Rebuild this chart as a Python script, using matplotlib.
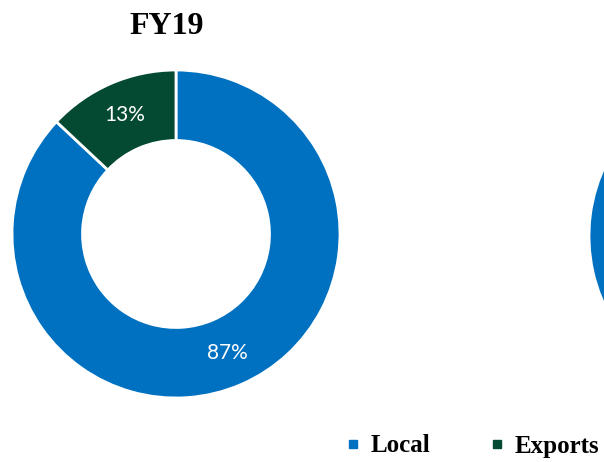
import matplotlib
matplotlib.use('Agg')
import matplotlib.pyplot as plt
from matplotlib.lines import Line2D

categories = ['Local', 'Exports']
fy19_share = [87, 13]
fy20_share = [88, 12]   # second chart, only its left edge shows in the crop
colors = ['#0070C0', '#044A32']

W, H = 604, 462
fig = plt.figure(figsize=(W / 100, H / 100), dpi=100)

def donut(cx, cy, r, values, labels=True):
    ax = fig.add_axes([(cx - r) / W, (H - cy - r) / H, 2 * r / W, 2 * r / H])
    wedges, *rest = ax.pie(values, colors=colors, startangle=90, counterclock=False,
                           radius=1, pctdistance=0.79,
                           autopct='%1.0f%%' if labels else None,
                           wedgeprops=dict(width=0.43, edgecolor='white', linewidth=2))
    if labels:
        for t in rest[1]:
            t.set_color('white')
            t.set_fontsize(15)
            t.set_family('Lato')
    ax.set_xlim(-1, 1)
    ax.set_ylim(-1, 1)
    ax.set_aspect('equal')
    ax.axis('off')
    return ax

donut(176, 234, 164, fy19_share)
donut(753, 236, 164, fy20_share, labels=False)

fig.text(167 / W, (H - 26) / H, 'FY19', ha='center', va='center',
         fontsize=23, fontweight='bold', family='Liberation Serif')

handles = [Line2D([], [], marker='s', linestyle='none', markersize=6,
                  color=c) for c in colors]
fig.legend(handles, categories, loc='center', bbox_to_anchor=(471 / W, (H - 446) / H),
           ncol=2, frameon=False, handlelength=0.8, handletextpad=0.32,
           columnspacing=2.24, prop=dict(family='Liberation Serif', weight='bold', size=18))

fig.savefig('out.png', dpi=100)
